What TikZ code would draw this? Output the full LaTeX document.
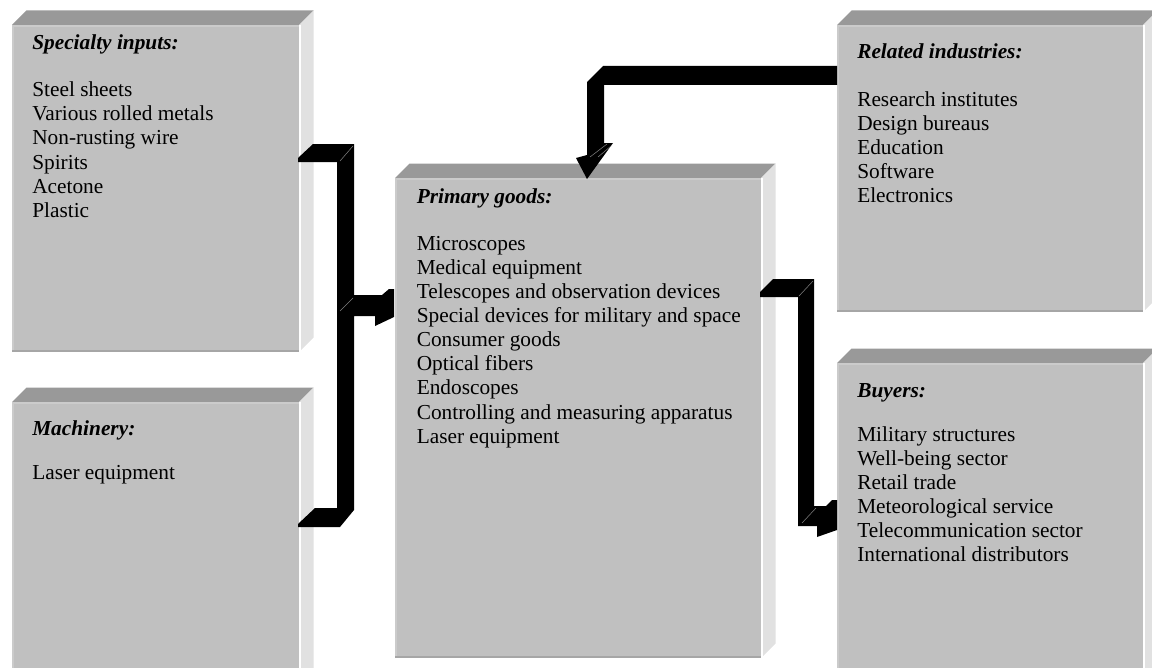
\documentclass[tikz,border=0pt]{standalone}
\usepackage{fontspec}
\setmainfont{Liberation Serif}
\definecolor{frontf}{HTML}{C0C0C0}
\definecolor{topf}{HTML}{999999}
\definecolor{sidef}{HTML}{E1E1E1}
\definecolor{lightedge}{HTML}{CBCBCB}
\definecolor{darkedge}{HTML}{A6A6A6}
\newcommand\tdbox[4]{%
  \fill[topf] (#1,#2) -- (#1+14.5,#2-14.5) -- (#3+14.5,#2-14.5) -- (#3,#2) -- cycle;
  \fill[sidef] (#3,#2) -- (#3+14.5,#2-14.5) -- (#3+14.5,#4-14.5) -- (#3,#4) -- cycle;
  \fill[frontf] (#1,#2) rectangle (#3,#4);
  \draw[lightedge, line width=1.2pt] (#1+0.8,#4) -- (#1+0.8,#2+0.8) -- (#3,#2+0.8);
  \draw[darkedge, line width=1.5pt] (#1,#4-1) -- (#3,#4-1);
  \draw[white, line width=1.5pt] (#3+1,#2) -- (#3+1,#4);
}
\begin{document}
\begin{tikzpicture}[x=0.75pt,y=-0.75pt,
  txt/.style={anchor=base west, inner sep=0pt, font=\fontsize{16}{18.15}\selectfont},
  ttl/.style={anchor=base west, inner sep=0pt, font=\fontsize{16}{18.15}\selectfont\bfseries\itshape},
  blockarrow/.style={fill=black},
  bevel/.style={draw=gray, line width=0.4pt}]
\useasboundingbox (0,0) rectangle (1152,667);
\begin{scope}
\clip (0,0) rectangle (1152,667);
% boxes
\tdbox{12}{25}{299}{352}
\tdbox{12}{402}{299}{700}
\tdbox{395}{178}{761}{658}
\tdbox{837}{25}{1143}{312}
\tdbox{837}{363}{1143}{700}
% arrows
\fill[blockarrow] (298,158) -- (313,144) -- (354,144) -- (354,295) -- (382,295) -- (389,289) -- (394,289) -- (394,317) -- (375,326) -- (375,316) -- (354,316) -- (354,510) -- (340,527) -- (298,527) -- (298,524) -- (315,508) -- (337,508) -- (337,162) -- (298,162) -- cycle;
\draw[bevel] (340,161) -- (353,146);
\draw[bevel] (340,311) -- (353,298);
\fill[blockarrow] (760,292) -- (773,279) -- (814,279) -- (814,506) -- (826,506) -- (832,500) -- (837,500) -- (837,530) -- (817,537) -- (817,526) -- (798,526) -- (798,297) -- (760,297) -- cycle;
\draw[bevel] (799,296) -- (813,281);
\draw[bevel] (802,523) -- (816,508);
\fill[blockarrow] (837,66) -- (603,66) -- (587,82) -- (587,155) -- (576,158) -- (587,179) -- (613,143) -- (604,143) -- (604,85) -- (837,85) -- cycle;
\draw[bevel] (590,157) -- (607,144);
\draw[bevel] (598,157) -- (611,146);
\end{scope}
% texts
\node[ttl] (specT) at (32,50) {Specialty inputs:};
\foreach \t [count=\i from 0] in {Steel sheets, Various rolled metals, Non-rusting wire, Spirits, Acetone, Plastic}
  \node[txt] (spec\i) at (32,96.5+24.2*\i) {\t};
\node[ttl] (machT) at (32,435) {Machinery:};
\node[txt] (mach0) at (32,479) {Laser equipment};
\node[ttl] (primT) at (416.5,203) {Primary goods:};
\foreach \t [count=\i from 0] in {Microscopes, Medical equipment, Telescopes and observation devices, Special devices for military and space, Consumer goods, Optical fibers, Endoscopes, Controlling and measuring apparatus, Laser equipment}
  \node[txt] (prim\i) at (416.5,250+24.15*\i) {\t};
\node[ttl] (relT) at (857,59) {Related industries:};
\foreach \t [count=\i from 0] in {Research institutes, Design bureaus, Education, Software, Electronics}
  \node[txt] (rel\i) at (857,106+24.2*\i) {\t};
\node[ttl] (buyT) at (857,397) {Buyers:};
\foreach \t [count=\i from 0] in {Military structures, Well-being sector, Retail trade, Meteorological service, Telecommunication sector, International distributors}
  \node[txt] (buy\i) at (857,441.5+24.05*\i) {\t};
\end{tikzpicture}
\end{document}
